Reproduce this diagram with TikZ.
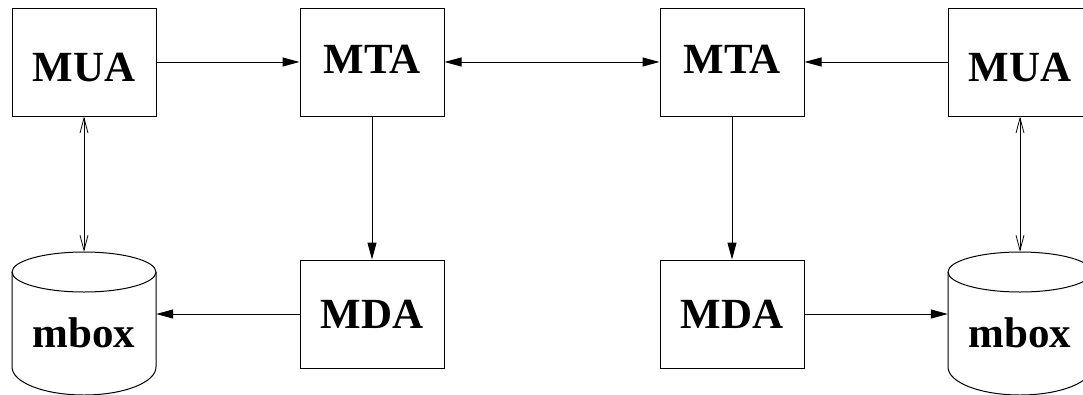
\documentclass[tikz,border=0pt]{standalone}
\usepackage{fontspec}
\setmainfont{Liberation Serif}
\usetikzlibrary{arrows.meta}
\tikzset{
  box/.style={draw, line width=1pt, minimum width=144pt, minimum height=108pt, inner sep=0pt,
    font=\fontsize{43}{50}\selectfont\bfseries, text depth=0pt},
  cyl/.style={inner sep=0pt, minimum width=144pt, minimum height=143pt,
    font=\fontsize{43}{50}\selectfont\bfseries, text height=47pt, text depth=0pt},
  conn/.style={line width=1pt, -{Triangle[length=17pt,width=9pt]}},
  conn2/.style={line width=1pt, {Triangle[length=17pt,width=9pt]}-{Triangle[length=17pt,width=9pt]}},
  openconn/.style={line width=0.8pt, {Straight Barb[length=15pt,width=8pt]}-{Straight Barb[length=15pt,width=8pt]}},
  cylline/.style={line width=1pt}
}
\begin{document}
\begin{tikzpicture}[x=1pt,y=-1pt]
\useasboundingbox (0,0) rectangle (1083,394);
\clip (0,0) rectangle (1083,394);
% boxes
\node[box, text height=38pt] (muaL) at (84,62) {MUA};
\node[box, text height=22pt] (mtaL) at (372,62) {MTA};
\node[box, text height=22pt] (mtaR) at (732,62) {MTA};
\node[box, text height=38pt] (muaR) at (1020,62) {MUA};
\node[box, text height=28pt] (mdaL) at (372,314) {MDA};
\node[box, text height=28pt] (mdaR) at (732,314) {MDA};
% cylinders
\node[cyl] (mboxL) at (84,323.5) {mbox};
\node[cyl] (mboxR) at (1020,323.5) {mbox};
\draw[cylline] (84,272) ellipse [x radius=72pt, y radius=20pt];
\draw[cylline] (12,272) -- (12,367) arc[start angle=180, end angle=360, x radius=72pt, y radius=28pt] -- (156,272);
\draw[cylline] (1020,272) ellipse [x radius=72pt, y radius=20pt];
\draw[cylline] (948,272) -- (948,367) arc[start angle=180, end angle=360, x radius=72pt, y radius=28pt] -- (1092,272);
% connectors
\draw[conn] (muaL.east) -- (mtaL.west);
\draw[conn2] (mtaL.east) -- (mtaR.west);
\draw[conn] (muaR.west) -- (mtaR.east);
\draw[conn] (mtaL.south) -- (mdaL.north);
\draw[conn] (mtaR.south) -- (mdaR.north);
\draw[conn] (mdaL.west) -- (mdaL.west -| mboxL.east);
\draw[conn] (mdaR.east) -- (mdaR.east -| mboxR.west);
\draw[openconn] (muaL.south) -- (mboxL.north);
\draw[openconn] (muaR.south) -- (mboxR.north);
\end{tikzpicture}
\end{document}
